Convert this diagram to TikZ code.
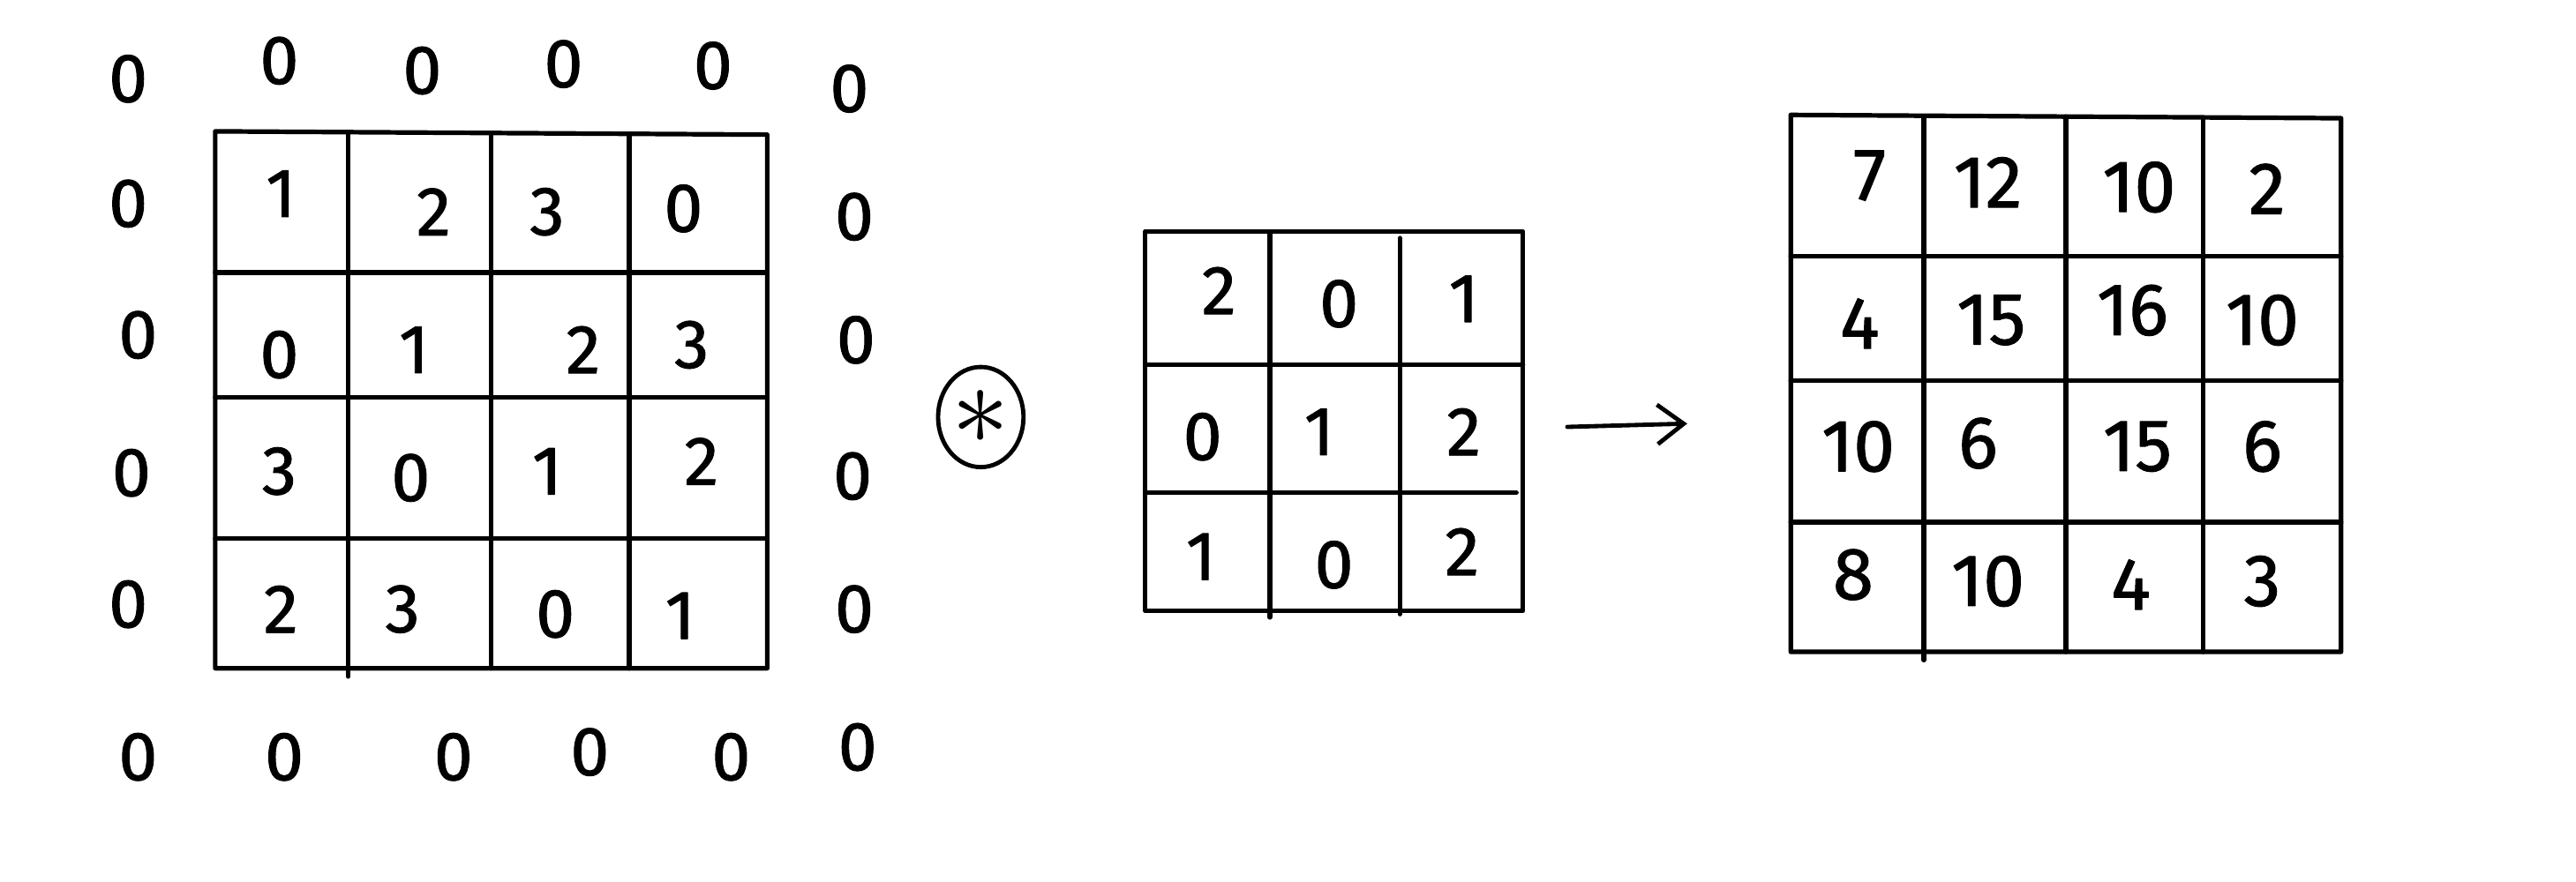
\documentclass[tikz,border=0pt]{standalone}
\usepackage{graphicx}
\usepackage{fontspec}
\setmainfont{Fira Sans}[FakeBold=1.2]
\newfontfamily\handfont{Fira Sans}[FakeBold=1.2]
\usetikzlibrary{arrows.meta,shapes.geometric}
\begin{document}
\begin{tikzpicture}[x=0.5mm,y=-0.5mm,
  line cap=round, line join=round,
  gridline/.style={line width=1.4mm},
  num/.style={inner sep=0pt, font=\handfont\fontsize{60}{60}\selectfont},
  bignum/.style={inner sep=0pt, font=\handfont\fontsize{64}{64}\selectfont},
  conv/.style={draw, ellipse, line width=1.3mm, inner sep=0pt,
    minimum width=26mm, minimum height=30.5mm},
  arrowline/.style={line width=1.3mm, -{Straight Barb[length=8mm,width=12mm,line width=1.3mm]}}]
\useasboundingbox (0,0) rectangle (1568,537);

% ---------- input grid ----------
\draw[gridline] (131,80) -- (467,82) -- (467,407) -- (131,407) -- cycle;
\draw[gridline] (212,81) -- (212,412);
\draw[gridline] (299,81) -- (299,407);
\draw[gridline] (383,82) -- (383,407);
\draw[gridline] (131,166) -- (467,166);
\draw[gridline] (131,242) -- (467,242);
\draw[gridline] (131,328) -- (467,328);

\foreach \n/\x/\y/\t in {
  l11/171/118/1, l12/264/129/2, l13/333/129/3, l14/416/127/0,
  l21/170/216/0, l22/252/213/1, l23/355/213/2, l24/421/210/3,
  l31/170/287/3, l32/250/291/0, l33/333/287/1, l34/427/281/2,
  l41/171/371/2, l42/245/371/3, l43/338/374/0, l44/414/375/1}
  \node[num] (\n) at (\x,\y) {\t};

% ---------- zero padding ----------
\foreach \n/\x/\y in {
  p1/78/48, p2/170/37, p3/257/43, p4/343/39, p5/434/40, p6/517/54,
  p7/78/124, p8/84/204, p9/80/288, p10/78/368,
  p11/520/132, p12/521/207, p13/519/290, p14/520/371,
  p15/84/461, p16/173/461, p17/276/461, p18/359/458, p19/445/461, p20/522/455}
  \node[num] (\n) at (\x,\y) {0};

% ---------- convolution symbol ----------
\node[conv] (op) at (597,254) {\scalebox{10}{$\ast$}};

% ---------- kernel ----------
\draw[gridline] (697,141) rectangle (927,372);
\draw[gridline] (773,141) -- (773,376);
\draw[gridline] (852,145) -- (852,374);
\draw[gridline] (697,222) -- (927,222);
\draw[gridline] (697,300) -- (923,300);

\foreach \n/\x/\y/\t in {
  k11/742/177/2, k12/815/185/0, k13/891/182/1,
  k21/732/266/0, k22/803/263/1, k23/891/263/2,
  k31/731/339/1, k32/812/344/0, k33/890/336/2}
  \node[num] (\n) at (\x,\y) {\t};

% ---------- arrow ----------
\coordinate (arrS) at (954,260);
\coordinate (arrE) at (1027,258);
\draw[arrowline] (arrS) -- (arrE);

% ---------- output grid ----------
\draw[gridline] (1090,70) -- (1425,72) -- (1425,397) -- (1090,397) -- cycle;
\draw[gridline] (1171,71) -- (1171,402);
\draw[gridline] (1257.5,71) -- (1257.5,397);
\draw[gridline] (1341,72) -- (1341,397);
\draw[gridline] (1090,156) -- (1425,156);
\draw[gridline] (1090,232) -- (1425,232);
\draw[gridline] (1090,318) -- (1425,318);

\foreach \n/\x/\y/\t in {
  r11/1138/107/7,  r12/1210/111/12, r13/1302/114/10, r14/1380/115/2,
  r21/1132/197/4,  r22/1212/195/15, r23/1298/189/16, r24/1377/195/10,
  r31/1131/272/10, r32/1204/270/6,  r33/1301/272/15, r34/1377/272/6,
  r41/1128/350/8,  r42/1210/354/10, r43/1297/356/4,  r44/1377/354/3}
  \node[bignum] (\n) at (\x,\y) {\t};
\end{tikzpicture}
\end{document}
